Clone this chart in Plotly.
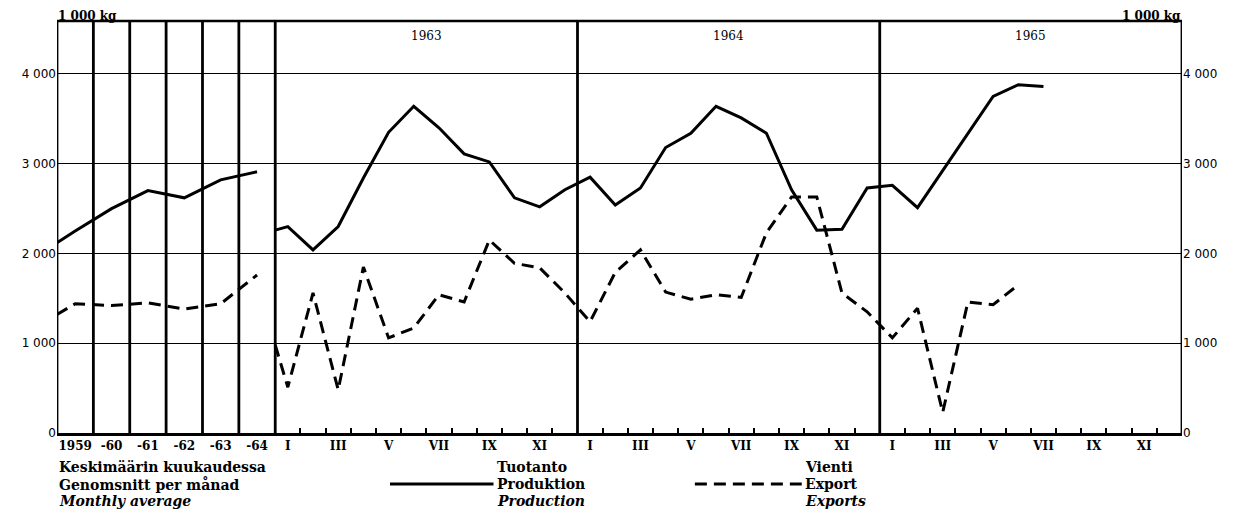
import plotly.graph_objects as go

# ---------------- data ----------------
annual_labels = ["1959", "-60", "-61", "-62", "-63", "-64"]
prod_annual_start = 2120
prod_annual = [2250, 2500, 2700, 2620, 2820, 2910]
exp_annual_start = 1320
exp_annual = [1440, 1420, 1450, 1380, 1440, 1760]

monthly_years = ["1963", "1964", "1965"]
month_labels = ["I", "", "III", "", "V", "", "VII", "", "IX", "", "XI", ""]

prod_monthly_start = 2260
prod_monthly = [2300, 2040, 2300, 2840, 3350, 3640, 3400, 3110, 3020, 2620, 2520, 2710,
                2850, 2540, 2730, 3180, 3340, 3640, 3510, 3340, 2710, 2260, 2270, 2730,
                2760, 2510, 2920, 3330, 3750, 3880, 3860]
exp_monthly_start = 980
exp_monthly = [510, 1560, 480, 1850, 1060, 1170, 1540, 1460, 2150, 1890, 1840, 1560,
               1240, 1790, 2040, 1570, 1490, 1540, 1510, 2230, 2630, 2630, 1560, 1350,
               1060, 1390, 230, 1460, 1430, 1650]

y_ticks = [0, 1000, 2000, 3000, 4000]
y_ticktext = ["0", "1 000", "2 000", "3 000", "4 000"]
unit_label = "1 000 kg"

legend_title = ["Keskimäärin kuukaudessa", "Genomsnitt per månad", "<i>Monthly average</i>"]
legend_prod = ["Tuotanto", "Produktion", "<i>Production</i>"]
legend_exp = ["Vienti", "Export", "<i>Exports</i>"]

# ---------------- geometry (x units: 1 = one month) ----------------
A = 1.444                     # width of one annual column
S = 6 * A                     # start of monthly part
TOTAL = S + 12 * len(monthly_years)
YMAX = 4590

ann_x = [0] + [(i + 0.5) * A for i in range(len(annual_labels))]
mon_x_prod = [S] + [S + i + 0.5 for i in range(len(prod_monthly))]
mon_x_exp = [S] + [S + i + 0.5 for i in range(len(exp_monthly))]

BLACK = "black"
LW = 3
DASH = "12px,7px"

fig = go.Figure()
fig.add_trace(go.Scatter(x=ann_x, y=[prod_annual_start] + prod_annual, mode="lines",
                         line=dict(color=BLACK, width=LW), showlegend=False))
fig.add_trace(go.Scatter(x=ann_x, y=[exp_annual_start] + exp_annual, mode="lines",
                         line=dict(color=BLACK, width=LW, dash=DASH), showlegend=False))
fig.add_trace(go.Scatter(x=mon_x_prod, y=[prod_monthly_start] + prod_monthly, mode="lines",
                         line=dict(color=BLACK, width=LW), showlegend=False))
fig.add_trace(go.Scatter(x=mon_x_exp, y=[exp_monthly_start] + exp_monthly, mode="lines",
                         line=dict(color=BLACK, width=LW, dash=DASH), showlegend=False,
                         xaxis="x2"))

# tick positions
xt_vals = [(i + 0.5) * A for i in range(len(annual_labels))]
xt_text = list(annual_labels)
for k in range(len(monthly_years)):
    for m, lab in enumerate(month_labels):
        if lab:
            xt_vals.append(S + 12 * k + m + 0.5)
            xt_text.append(lab)
minor_vals = [S + 12 * k + m for k in range(len(monthly_years)) for m in range(1, 12)]

tickfont_x = dict(family="DejaVu Serif", size=12, color=BLACK)
tickfont_y = dict(family="DejaVu Sans", size=12, color=BLACK)

fig.update_layout(
    width=1237, height=510,
    margin=dict(l=49, r=63, t=13, b=85, autoexpand=False),
    paper_bgcolor="white", plot_bgcolor="white",
    showlegend=False,
    xaxis=dict(range=[0, TOTAL], tickvals=xt_vals, ticktext=[f"<b>{t}</b>" for t in xt_text],
               tickfont=tickfont_x, ticks="", showgrid=False, zeroline=False,
               showline=True, linecolor=BLACK, linewidth=2.5, automargin=False),
    xaxis2=dict(range=[0, TOTAL], overlaying="x", anchor="y", side="bottom",
                tickvals=minor_vals, ticks="inside", ticklen=5, tickwidth=2, tickcolor=BLACK,
                showticklabels=False, showgrid=False, zeroline=False, showline=False),
    yaxis=dict(range=[0, YMAX], tickvals=y_ticks, ticktext=y_ticktext, tickfont=tickfont_y,
               ticks="", showgrid=True, gridcolor=BLACK, gridwidth=1.3, zeroline=False,
               showline=False, automargin=False),
    yaxis2=dict(range=[0, YMAX], overlaying="y", side="right", anchor="x",
                tickvals=y_ticks, ticktext=y_ticktext, tickfont=tickfont_y, ticks="",
                showgrid=False, zeroline=False, showline=False),
)
# invisible trace to activate yaxis2
fig.add_trace(go.Scatter(x=[0], y=[0], yaxis="y2", mode="markers",
                         marker=dict(opacity=0), showlegend=False, hoverinfo="skip"))

shapes = []
# section lines
vlines = [i * A for i in range(7)] + [S + 12 * k for k in range(1, len(monthly_years) + 1)]
for xv in vlines:
    shapes.append(dict(type="line", xref="x", yref="paper", x0=xv, x1=xv, y0=0, y1=1,
                       line=dict(color=BLACK, width=2.8)))
# top border
shapes.append(dict(type="line", xref="paper", yref="paper", x0=0, x1=1, y0=1, y1=1,
                   line=dict(color=BLACK, width=2.5)))
# legend samples
shapes.append(dict(type="line", xref="paper", yref="paper", x0=0.296, x1=0.388,
                   y0=-0.124, y1=-0.124, line=dict(color=BLACK, width=LW)))
shapes.append(dict(type="line", xref="paper", yref="paper", x0=0.567, x1=0.662,
                   y0=-0.124, y1=-0.124, line=dict(color=BLACK, width=LW, dash=DASH)))
fig.update_layout(shapes=shapes)

ann = []
lf = dict(family="DejaVu Serif", size=14, color=BLACK)
uf = dict(family="DejaVu Serif", size=12, color=BLACK)
# unit labels
ann.append(dict(text=f"<b>{unit_label}</b>", xref="paper", yref="paper", x=0, y=1.031,
                xanchor="left", yanchor="top", showarrow=False, font=uf, borderpad=0))
ann.append(dict(text=f"<b>{unit_label}</b>", xref="paper", yref="paper", x=1, y=1.031,
                xanchor="right", yanchor="top", showarrow=False, font=uf, borderpad=0))
# year labels
for k, yr in enumerate(monthly_years):
    ann.append(dict(text=yr, xref="x", yref="paper", x=S + 12 * k + 6, y=0.963,
                    xanchor="center", yanchor="middle", showarrow=False,
                    font=dict(family="DejaVu Serif", size=12, color=BLACK)))
# legend text
rows_y = [-0.083, -0.124, -0.165]
for col_x, texts in [(0.0, legend_title), (0.389, legend_prod), (0.663, legend_exp)]:
    for ry, t in zip(rows_y, texts):
        ann.append(dict(text=f"<b>{t}</b>", xref="paper", yref="paper", x=col_x, y=ry,
                        xanchor="left", yanchor="middle", showarrow=False, font=lf))
fig.update_layout(annotations=ann)

fig.write_html("out.html")
